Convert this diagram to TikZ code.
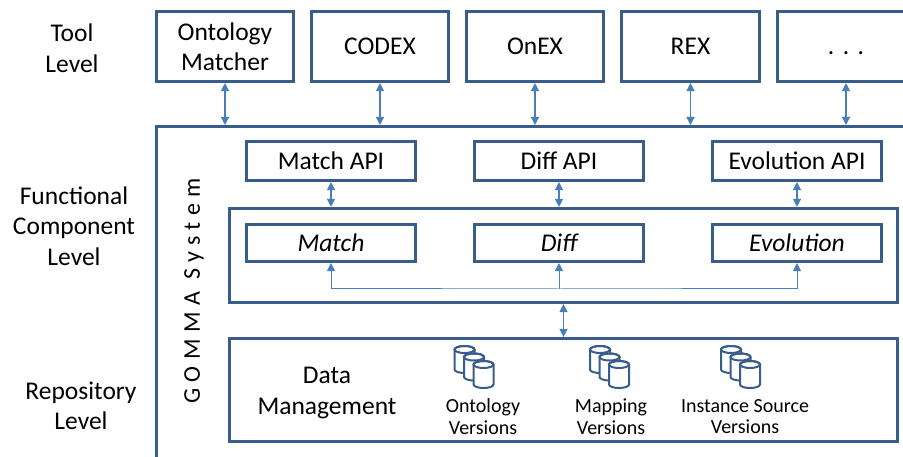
\documentclass[tikz,border=0pt]{standalone}
\usepackage{fontspec}
\setmainfont{Carlito}
\usetikzlibrary{arrows.meta}
\definecolor{boxblue}{HTML}{385D8A}
\definecolor{linkblue}{HTML}{4A7EBB}
\newcommand{\bigtext}{\fontsize{25.5}{30.5}\selectfont}
\newcommand{\smalltext}{\fontsize{20}{21.5}\selectfont}
\newcommand{\gommatext}{\fontsize{24}{28}\selectfont\addfontfeature{LetterSpace=27}}
\tikzset{
  barrels/.pic={
    \foreach \dx/\dy in {0/0,9.5/7.5,19/15}{
      \begin{scope}[shift={(\dx,\dy)}]
        \filldraw[fill=white] (-10,-10)--(-10,10) arc [start angle=180, end angle=0, x radius=10, y radius=3.5]
          --(10,-10) arc [start angle=0, end angle=-180, x radius=10, y radius=3.5]--cycle;
        \draw (0,-10) ellipse [x radius=10, y radius=3.5];
      \end{scope}
    }
  }
}
\begin{document}
\begin{tikzpicture}[x=1pt,y=-1pt,
	box/.style={draw=boxblue, line width=2.6pt, inner sep=0pt, align=center, font=\bigtext},
	toolbox/.style={box, minimum width=137.5pt, minimum height=70.5pt},
	apibox/.style={box, minimum width=169.5pt, minimum height=39.5pt},
	fnbox/.style={box, minimum width=169.5pt, minimum height=37.5pt, font=\bigtext\itshape},
	level/.style={align=center, font=\bigtext},
	store/.style={align=center, font=\smalltext},
	link/.style={draw=linkblue, line width=1.2pt, >={Triangle[width=8pt,length=8pt]}, <->}]
	\useasboundingbox (0,0) rectangle (903,457);
	% tools
	\node[toolbox] (matcher) at (225,46.5) {Ontology\\Matcher};
	\node[toolbox] (codex) at (380,46.5) {CODEX};
	\node[toolbox] (onex) at (535,46.5) {OnEX};
	\node[toolbox] (rex) at (690.5,46.5) {REX};
	\node[toolbox] (more) at (846,46.5) {\vphantom{X}.\hspace{8.5pt}.\hspace{8.5pt}.};
	% GOMMA system
	\node[box, minimum width=1000pt, minimum height=500pt, anchor=north west] (gomma) at (155,125) {};
	\node[rotate=90, font=\gommatext] (gommalabel) at (194,291) {GOMMA System};
	\node[apibox] (matchapi) at (331,161) {Match API};
	\node[apibox] (diffapi) at (559,161) {Diff API};
	\node[apibox] (evolapi) at (797,161) {Evolution API};
	\node[box, minimum width=668.5pt, minimum height=94.5pt] (fcl) at (563.5,255.5) {};
	\node[fnbox] (match) at (331,243) {Match};
	\node[fnbox] (diff) at (559,243) {Diff};
	\node[fnbox] (evol) at (797,243) {Evolution};
	\node[box, minimum width=668.5pt, minimum height=103.5pt] (repo) at (563.5,390) {};
	\node[level] (data) at (327,393) {Data\\Management};
	\pic[draw=boxblue, line width=2pt] at (464.5,359.5) {barrels};
	\pic[draw=boxblue, line width=2pt] at (600,359.5) {barrels};
	\pic[draw=boxblue, line width=2pt] at (731,359.5) {barrels};
	\node[store] (ontover) at (483,416.5) {Ontology\\Versions};
	\node[store] (mapver) at (611,416.5) {Mapping\\Versions};
	\node[store] (instver) at (745,416.5) {Instance Source\\Versions};
	% levels
	\node[level] (toollevel) at (72,48) {Tool\\Level};
	\node[level] (fclevel) at (74,226) {Functional\\Component\\Level};
	\node[level] (repolevel) at (81,406) {Repository\\Level};
	% connectors
	\draw[link] (matcher.south) -- (matcher.south |- gomma.north);
	\draw[link] (codex.south) -- (codex.south |- gomma.north);
	\draw[link] (onex.south) -- (onex.south |- gomma.north);
	\draw[link] (rex.south) -- (rex.south |- gomma.north);
	\draw[link] (more.south) -- (more.south |- gomma.north);
	\draw[link] (matchapi.south) -- (matchapi.south |- fcl.north);
	\draw[link] (diffapi.south) -- (diffapi.south |- fcl.north);
	\draw[link] (evolapi.south) -- (evolapi.south |- fcl.north);
	\coordinate (bus) at (559,289);
	\draw[link, line width=1pt] (match.south) |- (bus) -| (evol.south);
	\draw[link, line width=1pt, ->] (bus) -- (diff.south);
	\draw[link] (fcl.south) -- (repo.north);
\end{tikzpicture}
\end{document}
